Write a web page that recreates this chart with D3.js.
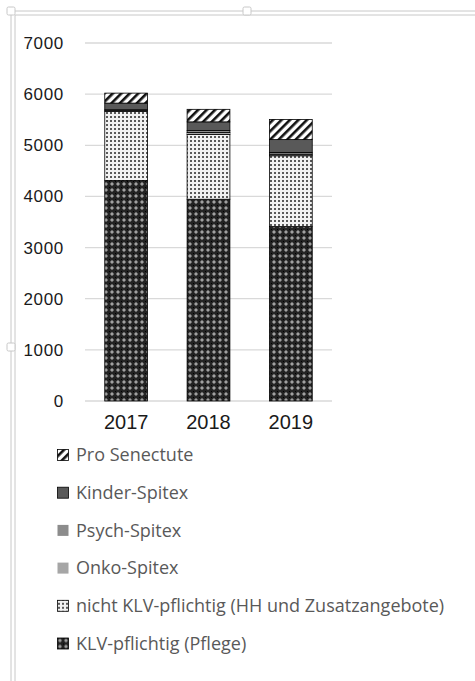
<!DOCTYPE html>
<html>
<head>
<meta charset="utf-8">
<script src="https://cdn.jsdelivr.net/npm/d3@7"></script>
<style>
  body { margin: 0; background: #fff; }
  svg { display: block; }
</style>
</head>
<body>
<div class="chart"></div>
<script>
// data
var years = ["2017", "2018", "2019"];
var klv = [4310, 3945, 3410];
var nichtKlv = [1355, 1265, 1385];
var onko = [10, 38, 30];
var psych = [20, 40, 36];
var kinder = [130, 170, 250];
var proSenectute = [195, 245, 395];
var yTicks = [0, 1000, 2000, 3000, 4000, 5000, 6000, 7000];

// series bottom -> top
var seriesNames = ["KLV-pflichtig (Pflege)", "nicht KLV-pflichtig (HH und Zusatzangebote)",
  "Onko-Spitex", "Psych-Spitex", "Kinder-Spitex", "Pro Senectute"];
var seriesValues = [klv, nichtKlv, onko, psych, kinder, proSenectute];
var seriesKeys = ["klv", "nicht", "onko", "psych", "kinder", "pro"];

var rows = years.map(function(y, i) {
  var r = { year: y };
  seriesKeys.forEach(function(k, j) { r[k] = seriesValues[j][i]; });
  return r;
});

var svgWidth = 475;
var svgHeight = 681;

var svg = d3.select(".chart")
  .append("svg")
  .attr("width", svgWidth)
  .attr("height", svgHeight);

// patterns
var defs = svg.append("defs");

var p1 = defs.append("pattern").attr("id", "pat-klv")
  .attr("patternUnits", "userSpaceOnUse").attr("width", 6).attr("height", 6);
p1.append("rect").attr("width", 6).attr("height", 6).attr("fill", "#222");
p1.append("path").attr("d", "M3,0.8 L5.2,3 L3,5.2 L0.8,3 Z").attr("fill", "#808080");
p1.append("rect").attr("x", 2.5).attr("y", 2.5).attr("width", 1).attr("height", 1).attr("fill", "#fff");
p1.append("rect").attr("x", 0).attr("y", 0).attr("width", 1).attr("height", 1).attr("fill", "#000");

var p2 = defs.append("pattern").attr("id", "pat-nicht")
  .attr("patternUnits", "userSpaceOnUse").attr("width", 4).attr("height", 4);
p2.append("rect").attr("width", 4).attr("height", 4).attr("fill", "#f2f2f2");
p2.append("rect").attr("x", 1).attr("y", 1).attr("width", 2).attr("height", 2).attr("fill", "#5a5a5a");

var p3 = defs.append("pattern").attr("id", "pat-pro")
  .attr("patternUnits", "userSpaceOnUse").attr("width", 6).attr("height", 6)
  .attr("patternTransform", "rotate(45)");
p3.append("rect").attr("width", 6).attr("height", 6).attr("fill", "#fff");
p3.append("rect").attr("width", 2.6).attr("height", 6).attr("fill", "#111");

var fills = {
  klv: "url(#pat-klv)",
  nicht: "url(#pat-nicht)",
  onko: "#a6a6a6",
  psych: "#8c8c8c",
  kinder: "#595959",
  pro: "url(#pat-pro)"
};

// selection frame (excel style)
var frame = svg.append("g").attr("stroke", "#c8c8c8").attr("fill", "none");
frame.append("path").attr("d", "M11,681 V11 H475");
frame.append("path").attr("d", "M15,681 V15 H475");
[[11, 11], [247, 11], [11, 347]].forEach(function(h) {
  frame.append("rect")
    .attr("x", h[0] - 4).attr("y", h[1] - 4)
    .attr("width", 8).attr("height", 8)
    .attr("rx", 1.5)
    .attr("fill", "#fff");
});

// scales
var margin = { left: 85, right: 143, top: 43, bottom: 280 };
var chartWidth = svgWidth - margin.left - margin.right;
var chartHeight = svgHeight - margin.top - margin.bottom;

var chartGroup = svg.append("g")
  .attr("transform", `translate(${margin.left}, ${margin.top})`);

var xScale = d3.scaleBand()
  .domain(years)
  .range([0, chartWidth])
  .paddingInner(0.48)
  .paddingOuter(0.24);

var yScale = d3.scaleLinear()
  .domain([0, 7000])
  .range([chartHeight, 0]);

// gridlines
chartGroup.append("g")
  .selectAll("line")
  .data(yTicks)
  .join("line")
  .attr("x1", 0)
  .attr("x2", chartWidth)
  .attr("y1", d => yScale(d))
  .attr("y2", d => yScale(d))
  .attr("stroke", "#d9d9d9")
  .attr("stroke-width", 1.3);

// y axis labels
var leftAxis = d3.axisLeft(yScale).tickValues(yTicks).tickFormat(d3.format("d"))
  .tickSize(0).tickPadding(21);
chartGroup.append("g")
  .call(leftAxis)
  .call(g => g.select(".domain").remove())
  .selectAll("text")
  .attr("font-family", "Liberation Sans, Arial, sans-serif")
  .attr("font-size", 17)
  .attr("letter-spacing", 0.7)
  .attr("fill", "#1a1a1a");

// x axis labels
var bottomAxis = d3.axisBottom(xScale).tickSize(0).tickPadding(14);
chartGroup.append("g")
  .attr("transform", `translate(0, ${chartHeight})`)
  .call(bottomAxis)
  .call(g => g.select(".domain").remove())
  .selectAll("text")
  .attr("font-family", "Liberation Sans, Arial, sans-serif")
  .attr("font-size", 20)
  .attr("fill", "#1a1a1a");

// stacked bars
var stack = d3.stack().keys(seriesKeys);
var stacked = stack(rows);

chartGroup.append("g")
  .selectAll("g")
  .data(stacked)
  .join("g")
  .attr("fill", d => fills[d.key])
  .selectAll("rect")
  .data(d => d)
  .join("rect")
  .attr("x", d => xScale(d.data.year))
  .attr("width", xScale.bandwidth())
  .attr("y", d => yScale(d[1]))
  .attr("height", d => yScale(d[0]) - yScale(d[1]))
  .attr("stroke", "#000")
  .attr("stroke-width", 0.8);

// legend, top to bottom in reverse order
var legendItems = seriesKeys.map((k, i) => ({ key: k, name: seriesNames[i] })).reverse();
var legend = svg.append("g").attr("transform", "translate(57, 455)");
var item = legend.selectAll("g")
  .data(legendItems)
  .join("g")
  .attr("transform", (d, i) => `translate(0, ${i * 37.7})`);

item.append("rect")
  .attr("x", 0.5)
  .attr("y", -5.5)
  .attr("width", 11)
  .attr("height", 11)
  .attr("fill", d => fills[d.key])
  .attr("stroke", d => (d.key === "onko" || d.key === "psych") ? "none" : "#000")
  .attr("stroke-width", 0.8);

item.append("text")
  .attr("x", 19)
  .attr("y", 0)
  .attr("dy", "0.35em")
  .attr("font-family", "Open Sans, sans-serif")
  .attr("font-size", 18)
  .attr("fill", "#595959")
  .text(d => d.name);
</script>
</body>
</html>
